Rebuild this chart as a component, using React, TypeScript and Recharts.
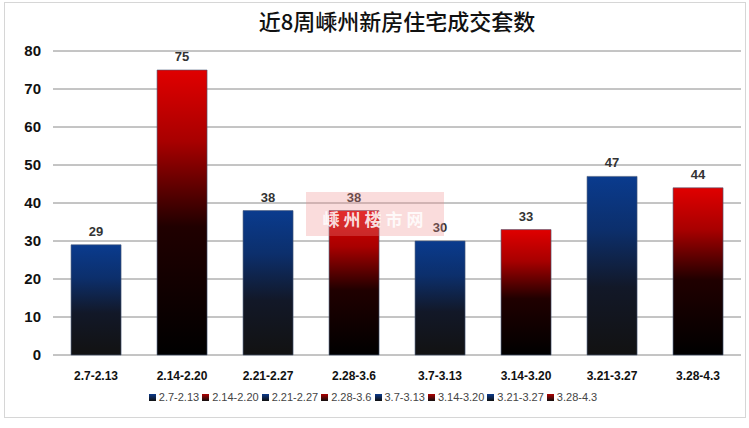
import React from "react";
import { Bar, BarChart, CartesianGrid, Cell, LabelList, XAxis, YAxis } from "recharts";

const weeks = ["2.7-2.13", "2.14-2.20", "2.21-2.27", "2.28-3.6", "3.7-3.13", "3.14-3.20", "3.21-3.27", "3.28-4.3"];
const deals = [29, 75, 38, 38, 30, 33, 47, 44];
const tone = ["blue", "red", "blue", "red", "blue", "red", "blue", "red"];
const yTicks = [0, 10, 20, 30, 40, 50, 60, 70, 80];

const chartData = weeks.map((w, i) => ({ name: w, value: deals[i], tone: tone[i] }));

function LegendRow() {
  return (
    <div
      style={{
        position: "absolute",
        left: 0,
        width: 749,
        top: 391,
        display: "flex",
        justifyContent: "center",
        fontFamily: "'Liberation Sans Narrow', 'Liberation Sans', sans-serif",
        fontSize: 11,
        color: "#444",
      }}
    >
      {weeks.map((w, i) => (
        <span key={w} style={{ display: "inline-flex", alignItems: "center", marginRight: 3 }}>
          <span
            style={{
              width: 7,
              height: 7,
              marginRight: 3,
              background:
                tone[i] === "blue"
                  ? "linear-gradient(#0b3a8c, #111)"
                  : "linear-gradient(#b00000, #111)",
            }}
          />
          {w}
        </span>
      ))}
    </div>
  );
}

export default function App() {
  return (
    <div
      style={{
        position: "fixed",
        left: 0,
        top: 0,
        width: 749,
        height: 428,
        background: "#fff",
        fontFamily: "'Liberation Sans', Arial, sans-serif",
      }}
    >
      <div
        style={{
          position: "absolute",
          left: 4,
          top: 2,
          width: 740,
          height: 414,
          border: "1px solid #d6d6d6",
        }}
      />
      <div
        style={{
          position: "absolute",
          left: 53,
          width: 688,
          top: 4,
          textAlign: "center",
          fontFamily: "'Noto Sans CJK SC', sans-serif",
          fontSize: 22,
          fontWeight: 500,
          color: "#111",
        }}
      >
        近8周嵊州新房住宅成交套数
      </div>
      <div style={{ position: "absolute", left: 0, top: 0 }}>
        <BarChart
          width={749}
          height={428}
          data={chartData}
          margin={{ top: 51, right: 8, bottom: 43, left: 0 }}
          barCategoryGap="21%"
        >
          <defs>
            <linearGradient id="gBlue" x1="0" y1="0" x2="0" y2="1">
              <stop offset="0%" stopColor="#0a3b8e" />
              <stop offset="30%" stopColor="#0c2f6c" />
              <stop offset="62%" stopColor="#121828" />
              <stop offset="100%" stopColor="#121212" />
            </linearGradient>
            <linearGradient id="gRed" x1="0" y1="0" x2="0" y2="1">
              <stop offset="0%" stopColor="#e00000" />
              <stop offset="25%" stopColor="#a80000" />
              <stop offset="55%" stopColor="#200000" />
              <stop offset="100%" stopColor="#000000" />
            </linearGradient>
          </defs>
          <CartesianGrid stroke="#8a8a8a" vertical={false} />
          <XAxis
            dataKey="name"
            height={30}
            axisLine={false}
            tickLine={false}
            tickMargin={10}
            interval={0}
            tick={{ fontSize: 12, fontWeight: "bold", fill: "#111" }}
          />
          <YAxis
            width={53}
            domain={[0, 80]}
            ticks={yTicks}
            axisLine={false}
            tickLine={false}
            tickMargin={6}
            tick={{ fontSize: 15, fontWeight: "bold", fill: "#111" }}
          />
          <Bar dataKey="value" isAnimationActive={false} stroke="#4a5a78" strokeWidth={0.6}>
            {chartData.map((d, i) => (
              <Cell key={i} fill={d.tone === "blue" ? "url(#gBlue)" : "url(#gRed)"} />
            ))}
            <LabelList
              dataKey="value"
              position="top"
              offset={9}
              style={{ fontSize: 13, fontWeight: "bold", fill: "#333" }}
            />
          </Bar>
        </BarChart>
      </div>
      {/* site watermark laid over the plot */}
      <div
        style={{
          position: "absolute",
          left: 306,
          top: 192,
          width: 138,
          height: 44,
          background: "rgba(240,140,140,0.3)",
          pointerEvents: "none",
        }}
      />
      <div
        style={{
          position: "absolute",
          left: 306,
          top: 208,
          width: 138,
          color: "rgba(255,255,255,0.85)",
          fontFamily: "'Noto Sans CJK SC', sans-serif",
          fontSize: 17,
          fontWeight: 700,
          textAlign: "center",
          lineHeight: "22px",
          letterSpacing: 4,
          pointerEvents: "none",
        }}
      >
        嵊州楼市网
      </div>
      <LegendRow />
    </div>
  );
}
